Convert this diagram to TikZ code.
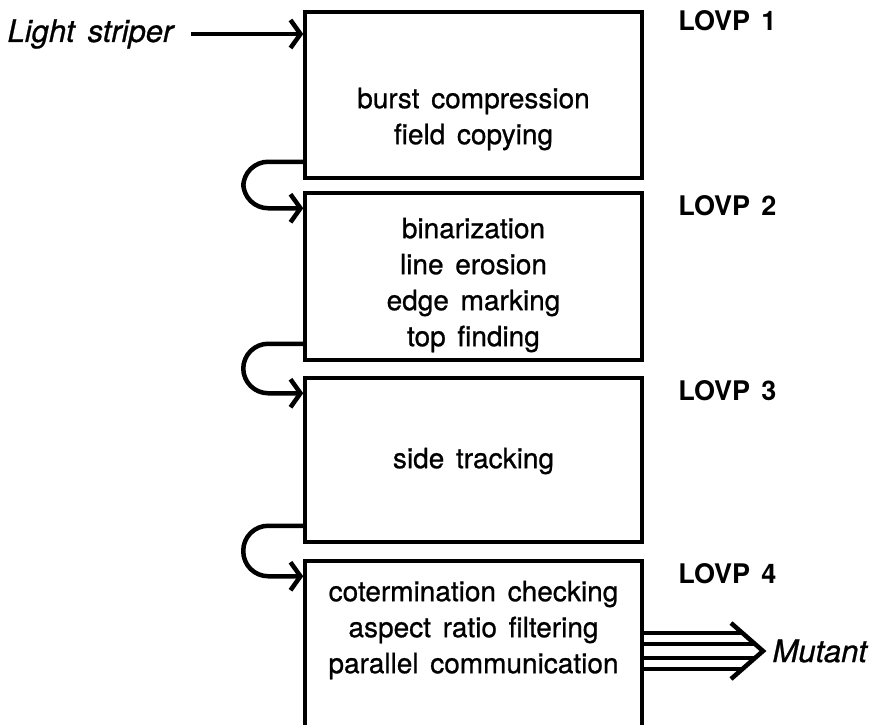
\documentclass[tikz,border=0pt]{standalone}
\usepackage{fontspec}
\setmainfont{TeX Gyre Heros}[WordSpace=1.5, FakeBold=0.8]
\newfontfamily\lovpfont{TeX Gyre Heros}[WordSpace=1.5]
\usetikzlibrary{arrows.meta,positioning,calc}
\tikzset{
  every node/.append style={font=\fontsize{28}{36}\selectfont},
  stage/.style={draw, line width=3.5pt, minimum width=337pt, inner sep=0pt},
  lovp/.style={font=\lovpfont\fontsize{27}{34}\selectfont\bfseries},
  io/.style={font=\fontsize{31}{36}\selectfont\itshape},
  conn/.style={line width=4.5pt, -{Straight Barb[length=10pt,width=28pt]}},
}

\begin{document}
\begin{tikzpicture}[x=1pt, y=-1pt]
    \useasboundingbox (0,0) rectangle (873,725);
    % the four processors
    \node[stage, minimum height=166pt] (b1) at (473.5,95) {};
    \node[stage, minimum height=167pt] (b2) at (473.5,276.5) {};
    \node[stage, minimum height=164pt] (b3) at (473.5,460) {};
    \node[stage, minimum height=199pt] (b4) at (473.5,660.5) {};
    \node[align=center] (t1) at (473.5,119) {burst compression\\field copying};
    \node[align=center] (t2) at (473.5,285) {binarization\\line erosion\\edge marking\\top finding};
    \node[align=center] (t3) at (473.5,461) {side tracking};
    \node[align=center] (t4) at (473.5,630) {cotermination checking\\aspect ratio filtering\\parallel communication};
    \node[lovp, right=31pt of b1.north east, yshift=-10pt] (l1) {LOVP 1};
    \node[lovp, right=31pt of b2.north east, yshift=-14pt] (l2) {LOVP 2};
    \node[lovp, right=31pt of b3.north east, yshift=-14pt] (l3) {LOVP 3};
    \node[lovp, right=31pt of b4.north east, yshift=-14pt] (l4) {LOVP 4};
    % input
    \node[io, anchor=west] (ls) at (4,34) {Light striper};
    \draw[conn, shorten <=14pt] (ls.east) -- (ls.east -| b1.west);
    % hand-over between processors
    \draw[conn, rounded corners=25pt] ([yshift=18pt]b1.south west) -- ++(-60,0) |- ([yshift=-17pt]b2.north west);
    \draw[conn, rounded corners=25pt] ([yshift=18pt]b2.south west) -- ++(-60,0) |- ([yshift=-17pt]b3.north west);
    \draw[conn, rounded corners=25pt] ([yshift=18pt]b3.south west) -- ++(-60,0) |- ([yshift=-17pt]b4.north west);
    % output
    \node[io, anchor=west] (mut) at (769,651) {Mutant};
    \coordinate (mtip) at ([xshift=-6pt]mut.west);
    \draw[line width=4.5pt] ($(mtip)+(-32,-28)$) -- (mtip) -- ($(mtip)+(-32,28)$);
    \foreach \dy/\dx in {-18/-21, -7/-8, 7/-8, 18/-21}
        \draw[line width=3.5pt] (b4.east |- mtip) ++(0,\dy) -- ($(mtip)+(\dx,\dy)$);
\end{tikzpicture}
\end{document}
